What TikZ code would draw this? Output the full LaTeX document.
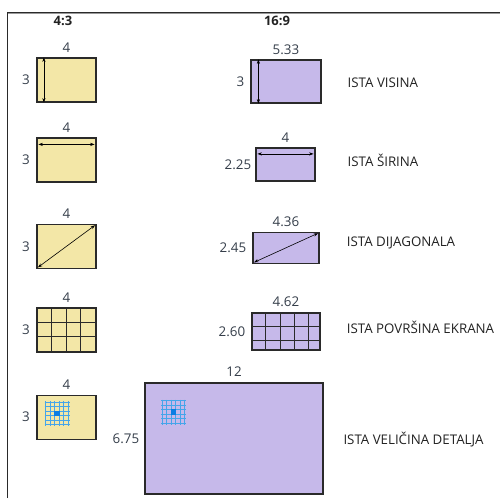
\documentclass[tikz,border=0pt]{standalone}
\usepackage{fontspec}
\setmainfont{Open Sans}
\usetikzlibrary{arrows.meta}
\definecolor{yfill}{HTML}{F3E7A7}
\definecolor{pfill}{HTML}{C6B9EA}
\definecolor{bline}{HTML}{45A5EA}
\definecolor{bsq}{HTML}{0B7DE3}
\definecolor{edge}{HTML}{2A2A2A}
\definecolor{numc}{HTML}{353E4A}
\definecolor{txtc}{HTML}{222222}
\begin{document}
\begin{tikzpicture}[x=1pt,y=-1pt,
  ybox/.style={draw=edge, line width=1.2pt, fill=yfill, inner sep=0, minimum width=59pt, minimum height=44pt},
  pbox/.style={draw=edge, line width=1.2pt, fill=pfill, inner sep=0},
  num/.style={text=numc, font=\fontsize{13.4}{13.4}\selectfont, inner sep=0},
  lab/.style={text=txtc, font=\fontsize{13.3}{13.3}\selectfont, anchor=west, inner sep=0},
  ttl/.style={text=txtc, font=\bfseries\fontsize{13}{13}\selectfont, inner sep=0},
  dim/.style={draw=black, line width=0.6pt, {Stealth[length=4.5pt,width=3.2pt]}-{Stealth[length=4.5pt,width=3.2pt]}},
  gridl/.style={draw=edge, line width=0.8pt},
  bl/.style={draw=bline, line width=1pt}
]
\useasboundingbox (0,0) rectangle (500,498);
% frame
\draw[line width=1pt, draw=black!40] (7,13.8) -- (500,13.8);
\draw[line width=1pt, draw=edge] (7,498) -- (7,12.7) -- (500,12.7);
% titles
\node[ttl] (t43) at (63,21) {4:3};
\node[ttl] (t169) at (277,21) {16:9};
% yellow boxes
\node[ybox] (y1) at (66.5,80) {};
\node[ybox] (y2) at (66.5,160) {};
\node[ybox] (y3) at (66.5,246.3) {};
\node[ybox] (y4) at (66.5,330) {};
\node[ybox] (y5) at (66.5,417.2) {};
% purple boxes
\node[pbox, minimum width=70pt, minimum height=43pt] (p1) at (286,81.5) {};
\node[pbox, minimum width=59pt, minimum height=33pt] (p2) at (285.5,164.5) {};
\node[pbox, minimum width=66pt, minimum height=31pt] (p3) at (286,247.8) {};
\node[pbox, minimum width=68pt, minimum height=37pt] (p4) at (286,331.4) {};
\node[pbox, minimum width=178pt, minimum height=111pt] (p5) at (234,438.5) {};
% grids
\foreach \k in {1,2,3} \draw[gridl] ([xshift=\k*14.75pt]y4.north west) -- ([xshift=\k*14.75pt]y4.south west);
\foreach \k in {1,2} \draw[gridl] ([yshift=-\k*14.667pt]y4.north west) -- ([yshift=-\k*14.667pt]y4.north east);
\foreach \k in {1,2,3,4} \draw[gridl] ([xshift=\k*14.35pt]p4.north west) -- ([xshift=\k*14.35pt]p4.south west);
\foreach \k in {1,2} \draw[gridl] ([yshift=-\k*14.2pt]p4.north west) -- ([yshift=-\k*14.2pt]p4.north east);
% blue detail grids
\foreach \cx/\cy in {57/413.5, 173.5/412} {
  \begin{scope}[shift={(\cx,\cy)}]
    \foreach \o in {-11.25,-6.75,-2.25,2.25,6.75,11.25} {
      \draw[bl] (\o,-12.5) -- (\o,12.5);
      \draw[bl] (-12.5,\o) -- (12.5,\o);
    }
    \fill[bsq] (-2.6,-2.6) rectangle (2.6,2.6);
  \end{scope}
}
% dimension arrows
\draw[dim] ([xshift=7.5pt]y1.north west) -- ([xshift=7.5pt]y1.south west);
\draw[dim] ([xshift=8pt]p1.north west) -- ([xshift=8pt]p1.south west);
\draw[dim] ([shift={(2pt,-7pt)}]y2.north west) -- ([shift={(-2pt,-7pt)}]y2.north east);
\draw[dim] ([shift={(2pt,-6.5pt)}]p2.north west) -- ([shift={(-2pt,-6.5pt)}]p2.north east);
\draw[dim] ([shift={(1.5pt,1.5pt)}]y3.south west) -- ([shift={(-1.5pt,-1.5pt)}]y3.north east);
\draw[dim] ([shift={(1.5pt,1.5pt)}]p3.south west) -- ([shift={(-1.5pt,-1.5pt)}]p3.north east);
% top labels
\foreach \b in {y1,y2,y3,y4,y5} \node[num, anchor=south] (w\b) at ([yshift=5pt]\b.north) {4};
\node[num, anchor=south] (wp1) at ([yshift=5pt]p1.north) {5.33};
\node[num, anchor=south] (wp2) at ([yshift=5pt]p2.north) {4};
\node[num, anchor=south] (wp3) at ([yshift=5pt]p3.north) {4.36};
\node[num, anchor=south] (wp4) at ([yshift=5pt]p4.north) {4.62};
\node[num, anchor=south] (wp5) at ([yshift=6pt]p5.north) {12};
% side labels
\foreach \b in {y1,y2,y3,y4,y5} \node[num, anchor=east] (h\b) at ([xshift=-6.5pt]\b.west) {3};
\node[num, anchor=east] (hp1) at ([xshift=-6pt]p1.west) {3};
\node[num, anchor=east] (hp2) at ([xshift=-4pt]p2.west) {2.25};
\node[num, anchor=east] (hp3) at ([xshift=-6pt]p3.west) {2.45};
\node[num, anchor=east] (hp4) at ([xshift=-6pt]p4.west) {2.60};
\node[num, anchor=east] (hp5) at ([xshift=-5pt]p5.west) {6.75};
% right labels
\node[lab] (l1) at (347.5,82.3) {ISTA VISINA};
\node[lab] (l2) at (347.5,160.7) {ISTA ŠIRINA};
\node[lab] (l3) at (346.7,243.3) {ISTA DIJAGONALA};
\node[lab] (l4) at (346.7,327.7) {ISTA POVRŠINA EKRANA};
\node[lab] (l5) at (343.3,439.3) {ISTA VELIČINA DETALJA};
\end{tikzpicture}
\end{document}
